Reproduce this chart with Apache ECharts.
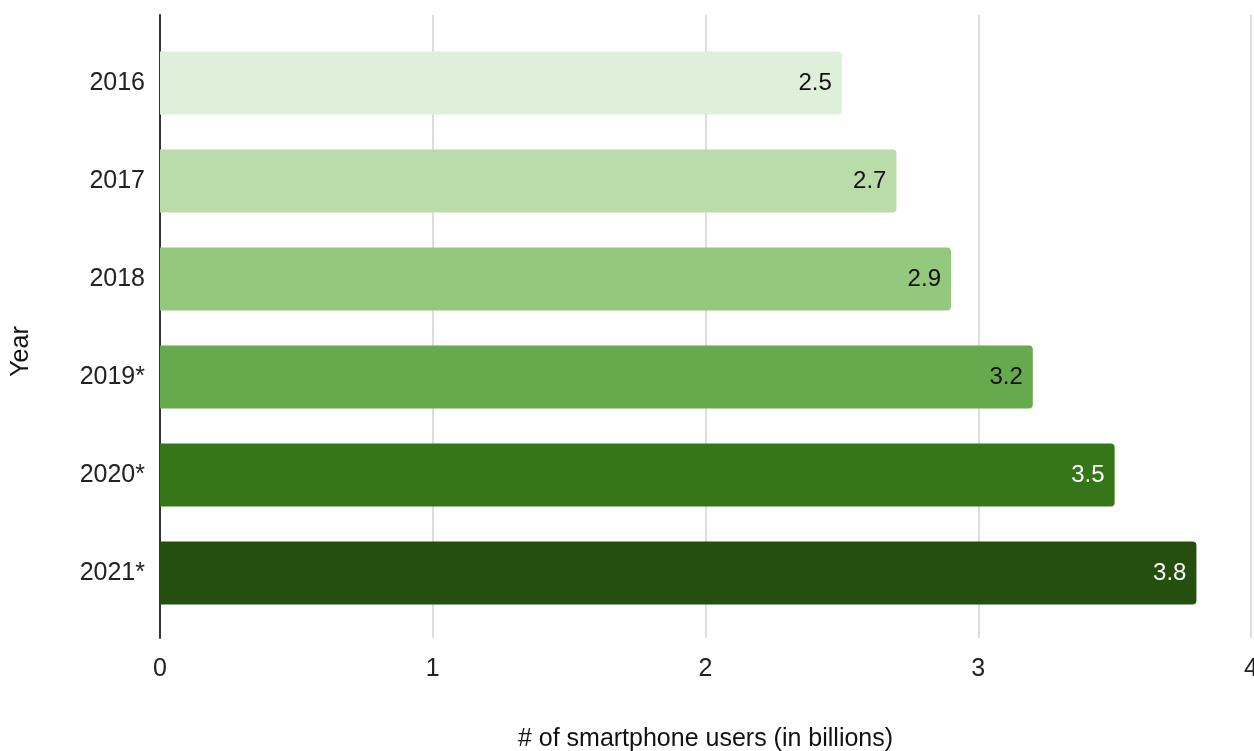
<!DOCTYPE html>
<html>
<head>
<meta charset="utf-8">
<script src="https://cdn.jsdelivr.net/npm/echarts@6/dist/echarts.min.js"></script>
<style>
  html, body { margin: 0; padding: 0; background: #fff; }
  #chart { width: 1254px; height: 751px; }
</style>
</head>
<body>
<div id="chart"></div>
<script>
// data
const years = ['2016', '2017', '2018', '2019*', '2020*', '2021*'];
const users = [2.5, 2.7, 2.9, 3.2, 3.5, 3.8];
const barColors = ['#def0d9', '#badca9', '#93c87d', '#67aa4d', '#357718', '#244f0e'];
const labelColors = ['#111', '#111', '#111', '#111', '#fff', '#fff'];
const xTicks = [0, 1, 2, 3, 4];

const font = 'Liberation Sans, Arial, sans-serif';

const chart = echarts.init(document.getElementById('chart'));

const option = {
  animation: false,
  grid: [
    // outer frame: grid lines and left axis line
    { left: 160, right: 3, top: 15, bottom: 113, outerBoundsMode: 'none' },
    // bars
    { left: 160, right: 3, top: 34, bottom: 129, outerBoundsMode: 'none' }
  ],
  xAxis: [
    {
      gridIndex: 0,
      type: 'value',
      min: xTicks[0],
      max: xTicks[xTicks.length - 1],
      interval: 1,
      axisLine: { show: false },
      axisTick: { show: false },
      splitLine: { lineStyle: { color: '#d2d2d2', width: 1.5 } },
      axisLabel: {
        margin: 19,
        fontSize: 25,
        fontFamily: font,
        color: '#222'
      },
      name: '# of smartphone users (in billions)',
      nameLocation: 'middle',
      nameGap: 89,
      nameTextStyle: { fontSize: 25, fontFamily: font, color: '#111' }
    },
    {
      gridIndex: 1,
      type: 'value',
      min: xTicks[0],
      max: xTicks[xTicks.length - 1],
      show: false
    }
  ],
  yAxis: [
    {
      gridIndex: 0,
      type: 'category',
      data: years,
      inverse: true,
      axisLine: { lineStyle: { color: '#333', width: 2 } },
      axisTick: { show: false },
      axisLabel: { show: false },
      name: 'Year',
      nameLocation: 'middle',
      nameGap: 126,
      nameRotate: 90,
      nameTextStyle: {
        fontSize: 25, fontFamily: font, color: '#111',
        padding: [0, 0, 0, -50]
      }
    },
    {
      gridIndex: 1,
      type: 'category',
      data: years,
      inverse: true,
      axisLine: { show: false },
      axisTick: { show: false },
      axisLabel: {
        margin: 15,
        fontSize: 25,
        fontFamily: font,
        color: '#222'
      }
    }
  ],
  series: [
    {
      type: 'bar',
      xAxisIndex: 1,
      yAxisIndex: 1,
      barWidth: 63,
      data: users.map((v, i) => ({
        value: v,
        itemStyle: { color: barColors[i], borderRadius: [0, 4, 4, 0] },
        label: { color: labelColors[i] }
      })),
      label: {
        show: true,
        position: 'insideRight',
        distance: 10,
        fontSize: 24,
        fontFamily: font
      }
    }
  ]
};

chart.setOption(option);
</script>
</body>
</html>
